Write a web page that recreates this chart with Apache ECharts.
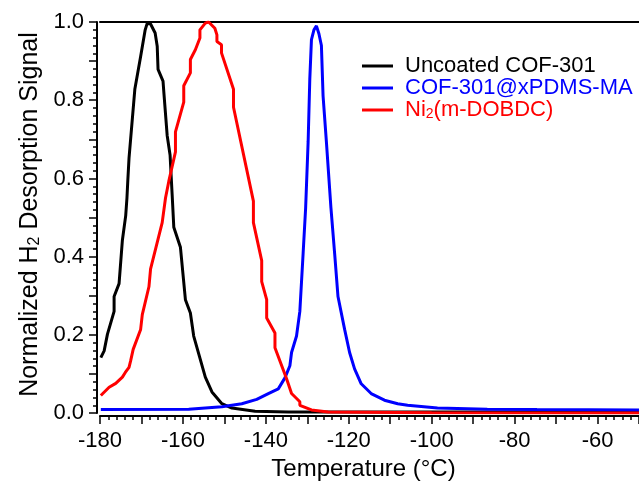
<!DOCTYPE html>
<html>
<head>
<meta charset="utf-8">
<script src="https://cdn.jsdelivr.net/npm/echarts@6/dist/echarts.min.js"></script>
<style>html,body{margin:0;padding:0;background:#fff}#c{width:639px;height:486px}</style>
</head>
<body>
<div id="c"></div>
<script>
var seriesNames = ['Uncoated COF-301', 'COF-301@xPDMS-MA', 'Ni2(m-DOBDC)'];
var seriesColors = ['#000000', '#0000ff', '#ff0000'];
var xTickValues = [-180, -160, -140, -120, -100, -80, -60];
var yTickLabels = ['0.0', '0.2', '0.4', '0.6', '0.8', '1.0'];

var uncoated = [[-179.8,0.142],[-179.0,0.159],[-178.2,0.202],[-176.6,0.26],[-176.6,0.298],[-175.4,0.331],[-174.6,0.442],[-173.8,0.505],[-173.5,0.55],[-173.3,0.593],[-173.0,0.652],[-171.6,0.828],[-170.2,0.912],[-169.1,0.98],[-168.6,0.997],[-168.2,1.0],[-167.8,0.995],[-166.7,0.972],[-166.2,0.938],[-166.0,0.879],[-164.8,0.849],[-164.6,0.82],[-163.8,0.71],[-163.1,0.66],[-162.6,0.559],[-162.2,0.475],[-160.6,0.424],[-159.4,0.29],[-158.2,0.256],[-157.4,0.197],[-154.6,0.092],[-153.0,0.054],[-150.6,0.024],[-148.2,0.013],[-142.6,0.005],[-134.6,0.003],[-100,0.003],[-50,0.003]];

var coated = [[-179.8,0.009],[-158.6,0.01],[-150.6,0.016],[-145.8,0.024],[-142.2,0.035],[-139.4,0.05],[-137.0,0.062],[-135.4,0.09],[-134.2,0.121],[-133.8,0.155],[-132.6,0.197],[-131.8,0.26],[-131.0,0.41],[-130.4,0.525],[-129.8,0.694],[-129.4,0.854],[-129.0,0.955],[-128.4,0.98],[-127.8,0.99],[-127.2,0.97],[-126.6,0.94],[-126.2,0.811],[-125.4,0.694],[-124.3,0.525],[-123.4,0.407],[-122.6,0.298],[-121.0,0.214],[-119.8,0.155],[-118.6,0.113],[-117.0,0.075],[-114.6,0.05],[-111.4,0.033],[-108.2,0.024],[-105.8,0.02],[-98.6,0.013],[-86.6,0.01],[-74.6,0.009],[-50,0.008]];

var nickel = [[-179.8,0.045],[-177.8,0.066],[-176.2,0.076],[-174.6,0.092],[-173.9,0.104],[-173.0,0.117],[-172.6,0.134],[-172.0,0.163],[-170.2,0.214],[-169.8,0.252],[-168.2,0.323],[-167.8,0.369],[-165.0,0.487],[-164.2,0.55],[-163.4,0.593],[-161.8,0.668],[-161.8,0.719],[-159.8,0.795],[-159.8,0.837],[-158.2,0.87],[-158.2,0.904],[-157.0,0.929],[-155.9,0.959],[-155.9,0.98],[-154.6,0.997],[-153.8,1.0],[-152.3,0.984],[-151.8,0.967],[-151.8,0.95],[-150.7,0.942],[-150.7,0.921],[-147.8,0.828],[-147.8,0.782],[-143.0,0.542],[-143.0,0.487],[-141.0,0.39],[-141.0,0.336],[-139.8,0.29],[-139.8,0.243],[-137.8,0.205],[-137.8,0.167],[-135.0,0.088],[-133.8,0.05],[-131.8,0.029],[-131.8,0.02],[-129.0,0.008],[-125.0,0.003],[-100,0.001],[-50,0.0]];

var seriesData = [uncoated, coated, nickel];
var FONT = '"Liberation Sans", Arial, Helvetica, sans-serif';

var chart = echarts.init(document.getElementById('c'), null, {renderer: 'canvas'});
var option = {
  animation: false,
  backgroundColor: '#ffffff',
  textStyle: {fontFamily: FONT},
  grid: {left: 100, right: -3, top: 22, bottom: 68, containLabel: false},
  legend: {
    orient: 'vertical',
    left: 362, top: 55,
    padding: 0, itemGap: 0,
    itemWidth: 31, itemHeight: 3,
    icon: 'rect',
    data: seriesNames.map(function (n, i) {
      return {name: n, textStyle: {color: seriesColors[i]}};
    }),
    formatter: function (n) {
      if (n === 'Ni2(m-DOBDC)') return '{r|Ni}{s|2}{r|(m-DOBDC)}';
      return n;
    },
    textStyle: {
      fontFamily: FONT, fontSize: 22, lineHeight: 22, padding: [0, 0, 0, 7],
      rich: {
        r: {color: '#ff0000', fontSize: 22, fontFamily: FONT, verticalAlign: 'middle'},
        s: {color: '#ff0000', fontSize: 14, fontFamily: FONT, verticalAlign: 'bottom'}
      }
    }
  },
  xAxis: [{
    type: 'value', min: -180, max: -50, interval: 10, offset: 3,
    position: 'bottom',
    axisLine: {show: true, onZero: false, lineStyle: {color: '#000', width: 2}},
    axisTick: {show: true, inside: false, length: 8, lineStyle: {color: '#000', width: 1.5}},
    minorTick: {show: true, splitNumber: 5, length: 4, lineStyle: {color: '#000', width: 1.5}},
    splitLine: {show: false},
    axisLabel: {
      color: '#000', fontSize: 22, fontFamily: FONT, margin: 14, showMaxLabel: false,
      formatter: function (v) { return xTickValues.indexOf(Math.round(v)) >= 0 ? String(Math.round(v)) : ''; }
    },
    name: 'Temperature (°C)', nameLocation: 'middle', nameGap: 38,
    nameTextStyle: {color: '#000', fontSize: 24, fontFamily: FONT, padding: [0, 12, 0, 0]}
  }, {
    type: 'value', min: -180, max: -50, position: 'top',
    axisLine: {show: true, onZero: false, lineStyle: {color: '#000', width: 2}},
    axisTick: {show: false}, axisLabel: {show: false}, splitLine: {show: false}
  }],
  yAxis: [{
    type: 'value', min: 0, max: 1, interval: 0.1, offset: 3,
    axisLine: {show: true, onZero: false, lineStyle: {color: '#000', width: 2}},
    axisTick: {show: true, inside: false, length: 8, lineStyle: {color: '#000', width: 1.5}},
    minorTick: {show: true, splitNumber: 5, length: 4, lineStyle: {color: '#000', width: 1.5}},
    splitLine: {show: false},
    axisLabel: {
      color: '#000', fontSize: 22, fontFamily: FONT, margin: 13,
      formatter: function (v) { var k = Math.round(v * 10); return k % 2 === 0 ? yTickLabels[k / 2] : ''; }
    },
    name: '{a|Normalized H}{s|2}{a| Desorption Signal}', nameLocation: 'middle', nameGap: 53, nameRotate: 90,
    nameTextStyle: {
      color: '#000', fontFamily: FONT, padding: [0, 0, 0, 6],
      rich: {
        a: {fontSize: 25, color: '#000', fontFamily: FONT, verticalAlign: 'middle'},
        s: {fontSize: 16, color: '#000', fontFamily: FONT, verticalAlign: 'bottom'}
      }
    }
  }],
  series: seriesNames.map(function (n, i) {
    return {
      name: n, type: 'line', data: seriesData[i], xAxisIndex: 0, yAxisIndex: 0,
      showSymbol: false, symbol: 'none', clip: true,
      lineStyle: {color: seriesColors[i], width: 3},
      itemStyle: {color: seriesColors[i]}
    };
  })
};
chart.setOption(option);
</script>
</body>
</html>
